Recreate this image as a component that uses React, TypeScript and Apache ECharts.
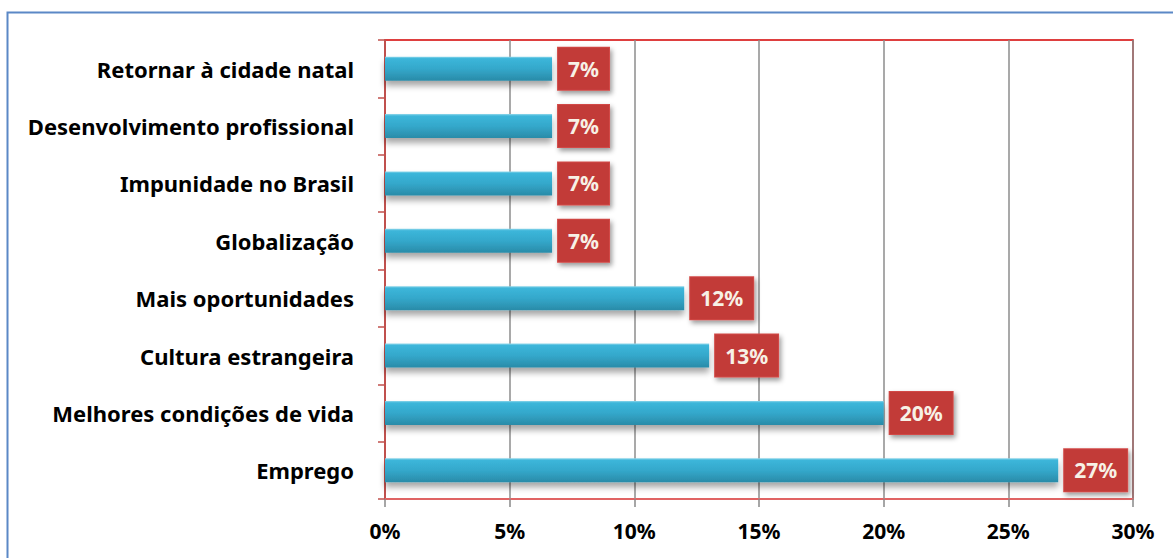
import React, { useEffect, useRef } from "react";
import * as echarts from "echarts";

const categories = [
  "Retornar à cidade natal",
  "Desenvolvimento profissional",
  "Impunidade no Brasil",
  "Globalização",
  "Mais oportunidades",
  "Cultura estrangeira",
  "Melhores condições de vida",
  "Emprego",
];
const values = [6.7, 6.7, 6.7, 6.7, 12, 13, 20, 27];
const valueLabels = ["7%", "7%", "7%", "7%", "12%", "13%", "20%", "27%"];
const xTicks = [0, 5, 10, 15, 20, 25, 30];

export default function App() {
  const ref = useRef<HTMLDivElement>(null);
  useEffect(() => {
    const chart = echarts.init(ref.current!, null, { renderer: "svg" });
    const font = "'Noto Sans', 'Open Sans', sans-serif";
    chart.setOption({
      animation: false,
      backgroundColor: "#ffffff",
      graphic: [
        {
          type: "rect",
          shape: { x: 7.5, y: 12.5, width: 1200, height: 600 },
          style: { fill: "none", stroke: "#5b88c6", lineWidth: 2 },
          z: 0,
        },
      ],
      grid: {
        left: 385,
        right: 40,
        top: 40,
        bottom: 59,
        show: true,
        borderColor: "#d40000",
        borderWidth: 1.5,
        containLabel: false,
      },
      xAxis: {
        type: "value",
        min: xTicks[0],
        max: xTicks[xTicks.length - 1],
        interval: 5,
        axisLine: { show: true, lineStyle: { color: "#e07070", width: 1.5 } },
        axisTick: { show: true, length: 8, lineStyle: { color: "#888888", width: 1.5 } },
        splitLine: { show: true, lineStyle: { color: "#8c8c8c", width: 1.5 } },
        axisLabel: {
          formatter: (v: number) => v + "%",
          color: "#000000",
          fontFamily: font,
          fontWeight: "bold",
          fontSize: 21,
          margin: 21,
        },
      },
      yAxis: {
        type: "category",
        data: categories,
        inverse: true,
        axisLine: { show: true, lineStyle: { color: "#c0504d", width: 2 } },
        axisTick: { show: true, length: 7, lineStyle: { color: "#c0504d", width: 1.5 } },
        axisLabel: {
          color: "#000000",
          fontFamily: font,
          fontWeight: "bold",
          fontSize: 22,
          margin: 31,
        },
      },
      series: [
        {
          type: "bar",
          data: values,
          barWidth: 24,
          itemStyle: {
            color: new echarts.graphic.LinearGradient(0, 0, 0, 1, [
              { offset: 0, color: "#8fd6ea" },
              { offset: 0.08, color: "#3cb6da" },
              { offset: 0.5, color: "#34a8cb" },
              { offset: 1, color: "#2a8ba8" },
            ]),
            shadowColor: "rgba(0,0,0,0.35)",
            shadowBlur: 6,
            shadowOffsetY: 5,
          },
          label: {
            show: true,
            position: "right",
            distance: 6,
            formatter: (p: any) => valueLabels[p.dataIndex],
            color: "#f7f1e6",
            fontFamily: font,
            fontWeight: "bold",
            fontSize: 21,
            lineHeight: 24,
            backgroundColor: "#c23a38",
            borderColor: "#d24a47",
            borderWidth: 1,
            padding: [9, 10, 9, 10],
            shadowColor: "rgba(0,0,0,0.4)",
            shadowBlur: 5,
            shadowOffsetX: 2,
            shadowOffsetY: 3,
          },
        },
      ],
    });
    return () => chart.dispose();
  }, []);
  return (
    <div
      ref={ref}
      style={{ position: "fixed", left: 0, top: 0, width: 1173, height: 558 }}
    />
  );
}
